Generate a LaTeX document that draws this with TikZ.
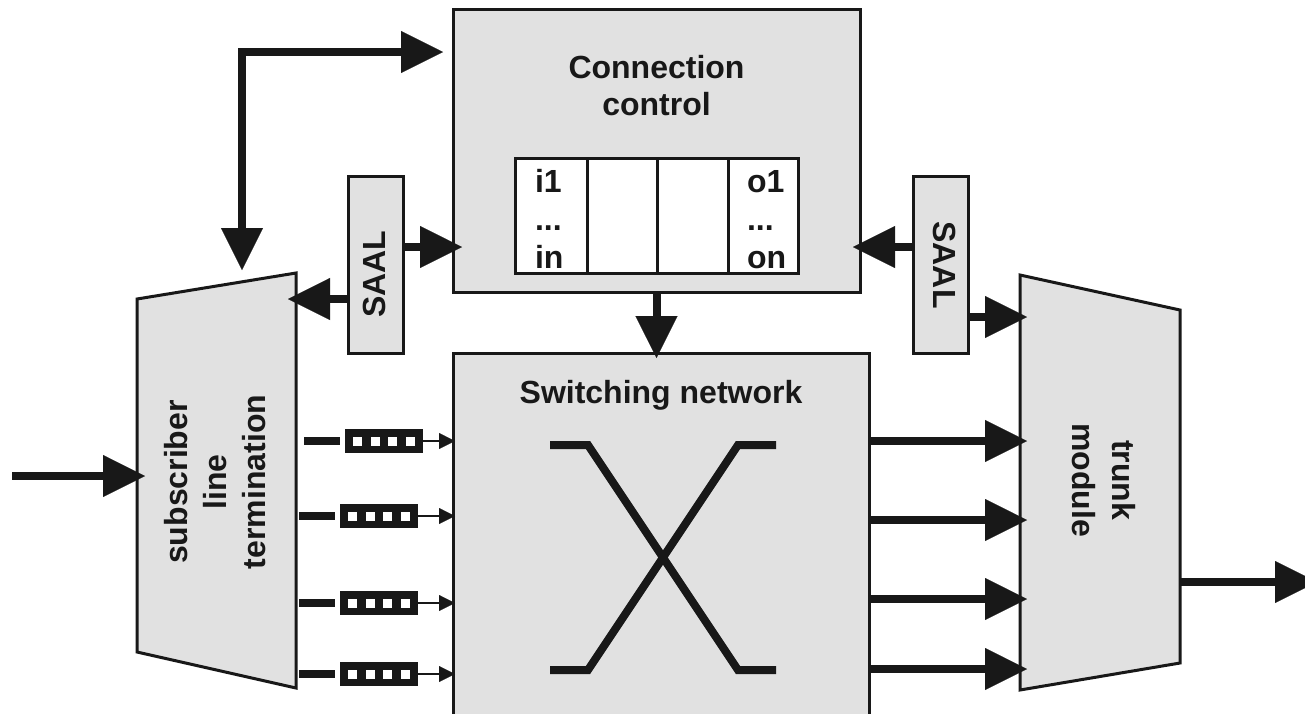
\documentclass[tikz,border=0pt]{standalone}
\usepackage{fontspec}
\setmainfont{Liberation Sans}
\usetikzlibrary{arrows.meta}
\definecolor{boxgray}{RGB}{225,225,225}
\definecolor{ink}{RGB}{24,24,24}
\tikzset{
  box/.style={draw=ink, fill=boxgray, line width=3pt, inner sep=0pt, outer sep=0pt},
  cell/.style={draw=ink, fill=white, line width=3pt, inner sep=0pt, outer sep=0pt, minimum height=115pt},
  trap/.style={draw=ink, fill=boxgray, line width=3pt, line join=miter},
  lbl/.style={font=\fontsize{32}{37}\selectfont\bfseries, text=ink, inner sep=0pt, outer sep=0pt},
  big/.style={draw=ink, line width=8pt, -{Triangle[length=42pt,width=42pt,line width=0.1pt]}},
  bigboth/.style={draw=ink, line width=8pt, {Triangle[length=42pt,width=42pt,line width=0.1pt]}-{Triangle[length=42pt,width=42pt,line width=0.1pt]}},
  small/.style={draw=ink, line width=1.6pt, -{Triangle[length=16pt,width=16pt,line width=0.1pt]}},
  xline/.style={draw=ink, line width=8pt, line join=miter},
  queuebox/.style={fill=ink, draw=none, minimum width=78pt, minimum height=24pt, inner sep=0pt, outer sep=0pt},
  qbar/.style={draw=ink, line width=8pt}
}
\begin{document}
\begin{tikzpicture}[x=1pt,y=-1pt,line join=miter]
\useasboundingbox (0,0) rectangle (1305,713);
\clip (0,0) rectangle (1305,713);

% Connection control
\node[box, minimum width=407pt, minimum height=283pt] (cc) at (656.5,150.5) {};
\node[lbl, anchor=base] (cct1) at (656.5,78) {Connection};
\node[lbl, anchor=base] (cct2) at (656.5,115) {control};
\node[cell, minimum width=72pt] (c1) at (551,215.5) {};
\node[cell, minimum width=70pt] (c2) at (622,215.5) {};
\node[cell, minimum width=71pt] (c3) at (692.5,215.5) {};
\node[cell, minimum width=70pt] (c4) at (763,215.5) {};
\node[lbl, anchor=base west] (i1) at (535,192) {i1};
\node[lbl, anchor=base west] (idots) at (535,230) {...};
\node[lbl, anchor=base west] (in) at (535,268) {in};
\node[lbl, anchor=base west] (o1) at (747,192) {o1};
\node[lbl, anchor=base west] (odots) at (747,230) {...};
\node[lbl, anchor=base west] (on) at (747,268) {on};

% Switching network
\node[box, minimum width=416pt, minimum height=380pt] (sn) at (661,543) {};
\node[lbl, anchor=base] (snt) at (661,403) {Switching network};
\draw[xline] (550,445) -- (588,445) -- (738,670) -- (776,670);
\draw[xline] (776,445) -- (738,445) -- (588,670) -- (550,670);

% Subscriber line termination
\coordinate (stTL) at (137,299);
\coordinate (stTR) at (296,273);
\coordinate (stBR) at (296,688);
\coordinate (stBL) at (137,652);
\draw[trap] (stTL) -- (stTR) -- (stBR) -- (stBL) -- cycle;
\node[lbl, font=\fontsize{32}{39}\selectfont\bfseries, rotate=90, align=center] (stt) at (215,482) {subscriber\\line\\termination};

% Trunk module
\coordinate (tmTL) at (1020,275);
\coordinate (tmTR) at (1180,310);
\coordinate (tmBR) at (1180,663);
\coordinate (tmBL) at (1020,690);
\draw[trap] (tmTL) -- (tmTR) -- (tmBR) -- (tmBL) -- cycle;
\node[lbl, font=\fontsize{32}{40}\selectfont\bfseries, rotate=-90, align=center] (tmt) at (1104,480) {trunk\\module};

% SAAL boxes
\node[box, minimum width=55pt, minimum height=177pt] (saalL) at (375.5,264.5) {};
\node[lbl, rotate=90] (saalLt) at (374,274) {SAAL};
\node[box, minimum width=55pt, minimum height=177pt] (saalR) at (940.5,264.5) {};
\node[lbl, rotate=-90] (saalRt) at (945,265) {SAAL};

% Control arrows
\coordinate (ctlA) at (242,270);
\coordinate (ctlB) at (443,52);
\draw[bigboth] (ctlA) |- (ctlB);
\draw[big, shorten >=-9pt] (saalL.east |- 0,247) -- (cc.west |- 0,247);
\draw[big, shorten >=-7pt] (saalR.west |- 0,247) -- (cc.east |- 0,247);
\draw[big, shorten >=-8pt] (saalL.west |- 0,299) -- (stTR |- 0,299);
\draw[big, shorten >=-7pt] (saalR.east |- 0,317) -- (tmTL |- 0,317);
\draw[big, shorten >=-5pt] (cc.south) -- (cc.south |- sn.north);

% Input / output
\coordinate (inA) at (12,476);
\draw[big, shorten >=-8pt] (inA) -- (stTL |- 0,476);
\coordinate (outB) at (1317,582);
\draw[big] (tmTR |- 0,582) -- (outB);

% Switching network to trunk module
\foreach \y in {441,520,599,669}
  \draw[big, shorten >=-7pt] (sn.east |- 0,\y) -- (tmTL |- 0,\y);

% Queues
\foreach \n/\y/\xs in {1/441/345, 2/516/340, 3/603/340, 4/674/340} {
  \node[queuebox] (q\n) at ({\xs+39},\y) {};
  \foreach \k in {0,...,3}
    \fill[white] ({\xs+8+17.7*\k},{\y-4.5}) rectangle ++(9,9);
  \coordinate (bs\n) at ({\xs-41},\y);
  \coordinate (be\n) at ({\xs-5},\y);
  \draw[qbar] (bs\n) -- (be\n);
  \draw[small, shorten >=-2pt] (q\n.east) -- (sn.west |- q\n.east);
}
\end{tikzpicture}
\end{document}
